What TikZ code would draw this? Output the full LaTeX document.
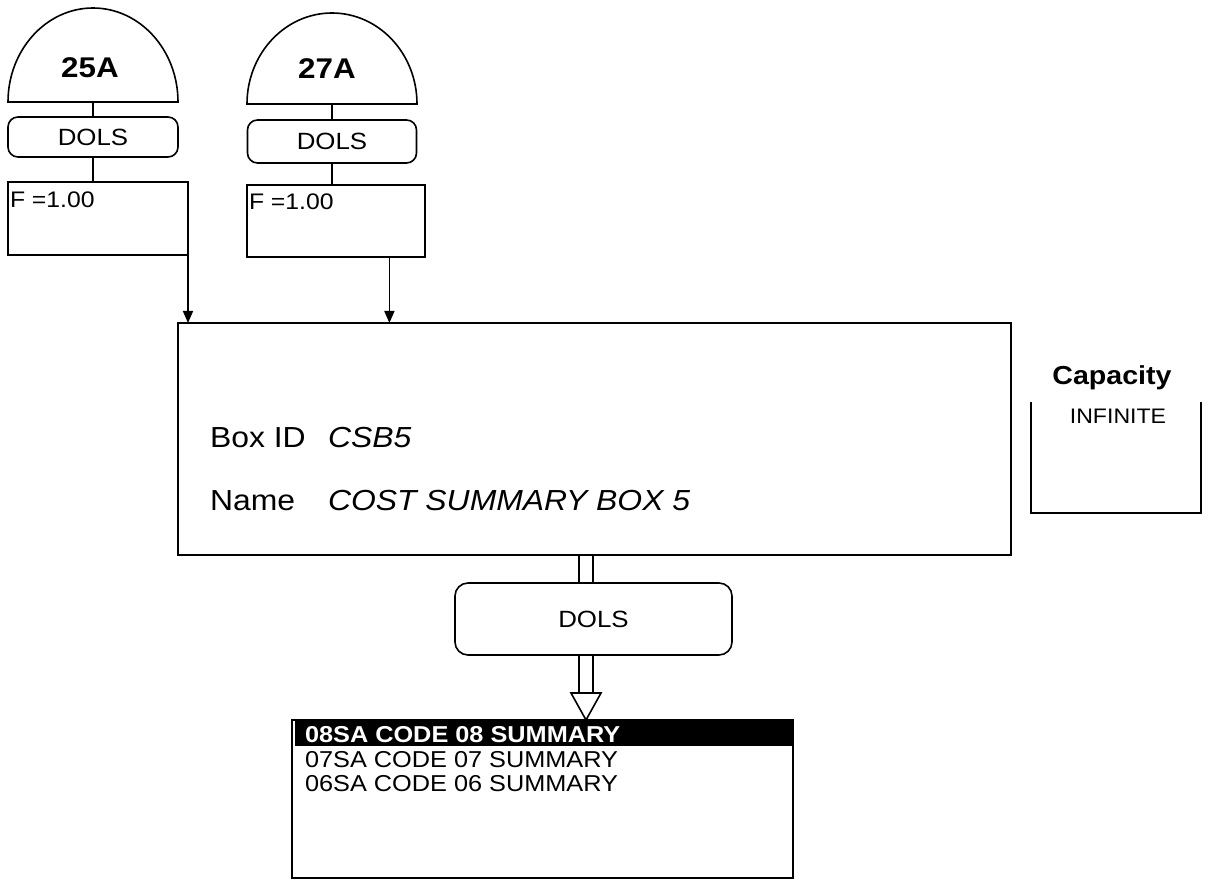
\documentclass[tikz,border=0pt]{standalone}
\usepackage{fontspec}
\setmainfont{Liberation Sans}[FakeStretch=1.1]
\usetikzlibrary{arrows.meta,calc}
\newcommand\fsz[1]{\fontsize{#1pt}{#1pt}\selectfont}
\begin{document}
\begin{tikzpicture}[x=1pt,y=-1pt,line width=1.6pt,
  every node/.style={inner sep=0pt,outer sep=0pt},
  boxn/.style={draw,rectangle,line width=1.6pt},
  roundn/.style={draw,rectangle,rounded corners=#1,line width=1.6pt},
  roundn/.default=10pt,
  arr/.style={-{Triangle[length=12pt,width=10pt]}},
  lbl/.style={anchor=base west},
  ttl/.style={anchor=base,font=\fsz{28.5}\bfseries},
  dols/.style={font=\fsz{23.5}},
  ftext/.style={anchor=base west,font=\fsz{22.5}},
  big/.style={anchor=base west,font=\fsz{29}},
  bigi/.style={anchor=base west,font=\fsz{29}\itshape},
  listt/.style={anchor=base west,font=\fsz{23}}
]
\useasboundingbox (0,0) rectangle (1208,882);

% ---- source 25A ----
\draw (8,102) arc[start angle=180,end angle=360,x radius=85,y radius=94] -- cycle;
\node[ttl] (t25) at (90,78) {25A};
\coordinate (h25) at (93,102);
\node[roundn=10pt,dols,minimum width=170pt,minimum height=40pt] (d1) at (93,137) {DOLS};
\node[boxn,minimum width=180pt,minimum height=73pt] (f1) at (98,218.5) {};
\node[ftext] (f1t) at (10,208) {F =1.00};
\draw (h25) -- (d1.north);
\draw (d1.south) -- (d1.south |- f1.north);

% ---- source 27A ----
\draw (247,104) arc[start angle=180,end angle=360,x radius=85,y radius=91] -- cycle;
\node[ttl] (t27) at (327,79) {27A};
\coordinate (h27) at (332,104);
\node[roundn=10pt,dols,minimum width=169pt,minimum height=43pt] (d2) at (332,141.5) {DOLS};
\node[boxn,minimum width=178pt,minimum height=72pt] (f2) at (336,221) {};
\node[ftext] (f2t) at (249,210) {F =1.00};
\draw (h27) -- (d2.north);
\draw (d2.south) -- (d2.south |- f2.north);

% ---- main box ----
\node[boxn,minimum width=833pt,minimum height=232pt] (main) at (594.5,439) {};
\node[big] (bid) at (210,448) {Box ID};
\node[bigi] (bidv) at (328,448) {CSB5};
\node[big] (bnm) at (210,510) {Name};
\node[bigi] (bnmv) at (328,510) {COST SUMMARY BOX 5};

\draw[arr] (f1.south east) -- (f1.south east |- main.north);
\coordinate (a2) at ($(f2.south west)!0.8!(f2.south east)$);
\draw[arr] (a2) -- (a2 |- main.north);

% ---- capacity ----
\node[anchor=base,font=\fsz{26}\bfseries] (cap) at (1112,385) {Capacity};
\node[anchor=base,font=\fsz{21}] (inf) at (1118,424) {INFINITE};
\coordinate (k1) at (1031,402);
\coordinate (k2) at (1031,513);
\coordinate (k3) at (1201,513);
\coordinate (k4) at (1201,402);
\draw (k1) -- (k2) -- (k3) -- (k4);

% ---- output ----
\node[roundn=13pt,dols,minimum width=277pt,minimum height=72pt] (d3) at (593.5,619) {DOLS};
\coordinate (c3) at (586,0);
\coordinate (tri) at (586,693);
\draw ($(c3 |- main.south)+(-7,0)$) -- ($(c3 |- d3.north)+(-7,0)$);
\draw ($(c3 |- main.south)+(7,0)$) -- ($(c3 |- d3.north)+(7,0)$);
\draw ($(c3 |- d3.south)+(-7,0)$) -- ($(tri)+(-7,0)$);
\draw ($(c3 |- d3.south)+(7,0)$) -- ($(tri)+(7,0)$);
\node[boxn,minimum width=501pt,minimum height=158pt] (lst) at (542.5,799) {};
\draw[fill=white,line join=miter] ($(tri)+(-15,0)$) -- ($(tri)+(15,0)$) -- (tri |- lst.north) -- cycle;
\fill (295,721) rectangle (792,746);
\node[listt,text=white,font=\fsz{23}\bfseries] (l8) at (305,742) {08SA CODE 08 SUMMARY};
\node[listt] (l7) at (305,767) {07SA CODE 07 SUMMARY};
\node[listt] (l6) at (305,791) {06SA CODE 06 SUMMARY};
\end{tikzpicture}
\end{document}
